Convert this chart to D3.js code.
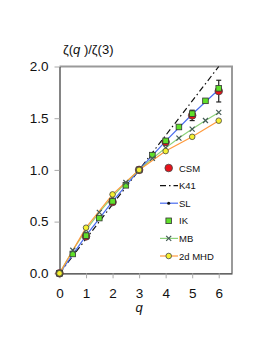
<!DOCTYPE html>
<html>
<head>
<meta charset="utf-8">
<script src="https://cdn.jsdelivr.net/npm/d3@7"></script>
<style>
  body { margin: 0; background: #fff; }
  svg { font-family: "Liberation Sans", Arial, sans-serif; }
</style>
</head>
<body>
<svg id="chart" width="278" height="360"></svg>
<script>
// data
const qInt = [0, 1, 2, 3, 4, 5, 6];
const qHalf = [0, 0.5, 1, 1.5, 2, 2.5, 3, 3.5, 4, 4.5, 5, 5.5, 6];
const csm = [0, 0.357, 0.689, 1.0, 1.27, 1.527, 1.762];
const csmErr = [0, 0.015, 0.015, 0, 0.03, 0.05, 0.105];
const k41 = [0, 2.0];
const k41q = [0, 6];
const sl = [0, 0.364, 0.696, 1.0, 1.279, 1.538, 1.778];
const ik = [0, 0.187, 0.364, 0.534, 0.696, 0.851, 1.0, 1.143, 1.281, 1.415, 1.544, 1.668, 1.789];
const mb = [0, 0.223, 0.418, 0.589, 0.742, 0.878, 1.0, 1.111, 1.213, 1.308, 1.395, 1.478, 1.556];
const mhd = [0, 0.441, 0.763, 1.0, 1.182, 1.32, 1.476];
const xTicks = [0, 1, 2, 3, 4, 5, 6];
const yTicks = [0, 0.5, 1.0, 1.5, 2.0];
const legendNames = ['CSM', 'K41', 'SL', 'IK', 'MB', '2d MHD'];

const svg = d3.select('#chart');
const mLeft = 59.5, mRight = 232, mTop = 66.5, mBottom = 273.3;

const x = d3.scaleLinear().domain([0, 6.5]).range([mLeft, mRight]);
const y = d3.scaleLinear().domain([0, 2]).range([mBottom, mTop]);

// frame: top and right light grey
svg.append('path')
  .attr('d', `M${mLeft},${mTop}H${mRight}V${mBottom}`)
  .attr('fill', 'none').attr('stroke', '#9a9a9a').attr('stroke-width', 2);

// axes
const xAxis = svg.append('g')
  .attr('transform', `translate(0,${mBottom})`)
  .call(d3.axisBottom(x).tickValues(xTicks).tickSize(5).tickSizeOuter(0).tickPadding(10).tickFormat(d3.format('d')));
const yAxis = svg.append('g')
  .attr('transform', `translate(${mLeft},0)`)
  .call(d3.axisLeft(y).tickValues(yTicks).tickSize(5).tickSizeOuter(0).tickPadding(6).tickFormat(d3.format('.1f')));
[xAxis, yAxis].forEach(g => {
  g.select('.domain').attr('stroke', '#333').attr('stroke-width', 1.2);
  g.selectAll('.tick line').attr('stroke', '#aaa');
  g.selectAll('.tick text').attr('fill', '#111').style('font-size', '13.5px')
    .style('font-family', '"Liberation Sans", Arial, sans-serif');
});

// axis titles
const yt = svg.append('text').attr('x', 63).attr('y', 54).attr('fill', '#111').style('font-size', '13px');
yt.append('tspan').text('ζ(');
yt.append('tspan').attr('font-style', 'italic').text('q');
yt.append('tspan').text(' )/ζ(3)');
svg.append('text').attr('x', x(3)).attr('y', 312).attr('text-anchor', 'middle')
  .attr('font-style', 'italic').attr('fill', '#111').style('font-size', '13px').text('q');

const line = d3.line().x(d => x(d[0])).y(d => y(d[1]));
const plot = svg.append('g');

// lines
plot.append('path').datum(k41q.map((q, i) => [q, k41[i]]))
  .attr('d', line).attr('fill', 'none').attr('stroke', '#111').attr('stroke-width', 1.2)
  .attr('stroke-dasharray', '6,3,1.5,3');
plot.append('path').datum(qInt.map((q, i) => [q, sl[i]]))
  .attr('d', line).attr('fill', 'none').attr('stroke', '#4a6cf0').attr('stroke-width', 1.2);
plot.append('path').datum(qHalf.map((q, i) => [q, mb[i]]))
  .attr('d', line).attr('fill', 'none').attr('stroke', '#8cd27a').attr('stroke-width', 1.2);
plot.append('path').datum(qInt.map((q, i) => [q, mhd[i]]))
  .attr('d', line).attr('fill', 'none').attr('stroke', '#ff9a3c').attr('stroke-width', 1.2);

// markers
function csmMark(g, cx, cy) {
  g.append('circle').attr('cx', cx).attr('cy', cy).attr('r', 3.8)
    .attr('fill', '#e8121a').attr('stroke', '#444').attr('stroke-width', 0.8);
}
function slMark(g, cx, cy) {
  g.append('circle').attr('cx', cx).attr('cy', cy).attr('r', 1.5).attr('fill', '#111');
}
function ikMark(g, cx, cy) {
  g.append('rect').attr('x', cx - 2.8).attr('y', cy - 2.8).attr('width', 5.6).attr('height', 5.6)
    .attr('fill', '#5fe02a').attr('stroke', '#333').attr('stroke-width', 0.8);
}
function mbMark(g, cx, cy) {
  g.append('path').attr('d', `M${cx - 2.5},${cy - 2.5}L${cx + 2.5},${cy + 2.5}M${cx - 2.5},${cy + 2.5}L${cx + 2.5},${cy - 2.5}`)
    .attr('stroke', '#445a55').attr('stroke-width', 1.2);
}
function mhdMark(g, cx, cy) {
  g.append('circle').attr('cx', cx).attr('cy', cy).attr('r', 2.8)
    .attr('fill', '#f4f030').attr('stroke', '#444').attr('stroke-width', 0.8);
}

qInt.forEach((q, i) => slMark(plot, x(q), y(sl[i])));
qInt.forEach((q, i) => {
  if (csmErr[i] > 0) {
    const e = plot.append('g').attr('stroke', '#222').attr('stroke-width', 1.2);
    e.append('line').attr('x1', x(q)).attr('x2', x(q)).attr('y1', y(csm[i] - csmErr[i])).attr('y2', y(csm[i] + csmErr[i]));
    [csm[i] - csmErr[i], csm[i] + csmErr[i]].forEach(v =>
      e.append('line').attr('x1', x(q) - 2.5).attr('x2', x(q) + 2.5).attr('y1', y(v)).attr('y2', y(v)));
  }
  csmMark(plot, x(q), y(csm[i]));
});
qHalf.forEach((q, i) => ikMark(plot, x(q), y(ik[i])));
qHalf.forEach((q, i) => mbMark(plot, x(q), y(mb[i])));
qInt.forEach((q, i) => mhdMark(plot, x(q), y(mhd[i])));

// legend
const lg = svg.append('g');
const lx = 168.7, ly0 = 168, dy = 17.6;
legendNames.forEach((name, i) => {
  const cy = ly0 + i * dy;
  const g = lg.append('g');
  if (name === 'CSM') csmMark(g, lx, cy);
  if (name === 'K41') g.append('line').attr('x1', 160).attr('x2', 178).attr('y1', cy).attr('y2', cy)
    .attr('stroke', '#111').attr('stroke-width', 1.2).attr('stroke-dasharray', '6,3,1.5,3');
  if (name === 'SL') {
    g.append('line').attr('x1', 160).attr('x2', 178).attr('y1', cy).attr('y2', cy).attr('stroke', '#4a6cf0').attr('stroke-width', 1.2);
    slMark(g, lx, cy);
  }
  if (name === 'IK') ikMark(g, lx, cy);
  if (name === 'MB') {
    g.append('line').attr('x1', 160).attr('x2', 178).attr('y1', cy).attr('y2', cy).attr('stroke', '#8cd27a').attr('stroke-width', 1.2);
    mbMark(g, lx, cy);
  }
  if (name === '2d MHD') {
    g.append('line').attr('x1', 160).attr('x2', 178).attr('y1', cy).attr('y2', cy).attr('stroke', '#ff9a3c').attr('stroke-width', 1.2);
    mhdMark(g, lx, cy);
  }
  g.append('text').attr('x', 179).attr('y', cy + 3.5).attr('fill', '#111').style('font-size', '9.5px').text(name);
});
</script>
</body>
</html>
